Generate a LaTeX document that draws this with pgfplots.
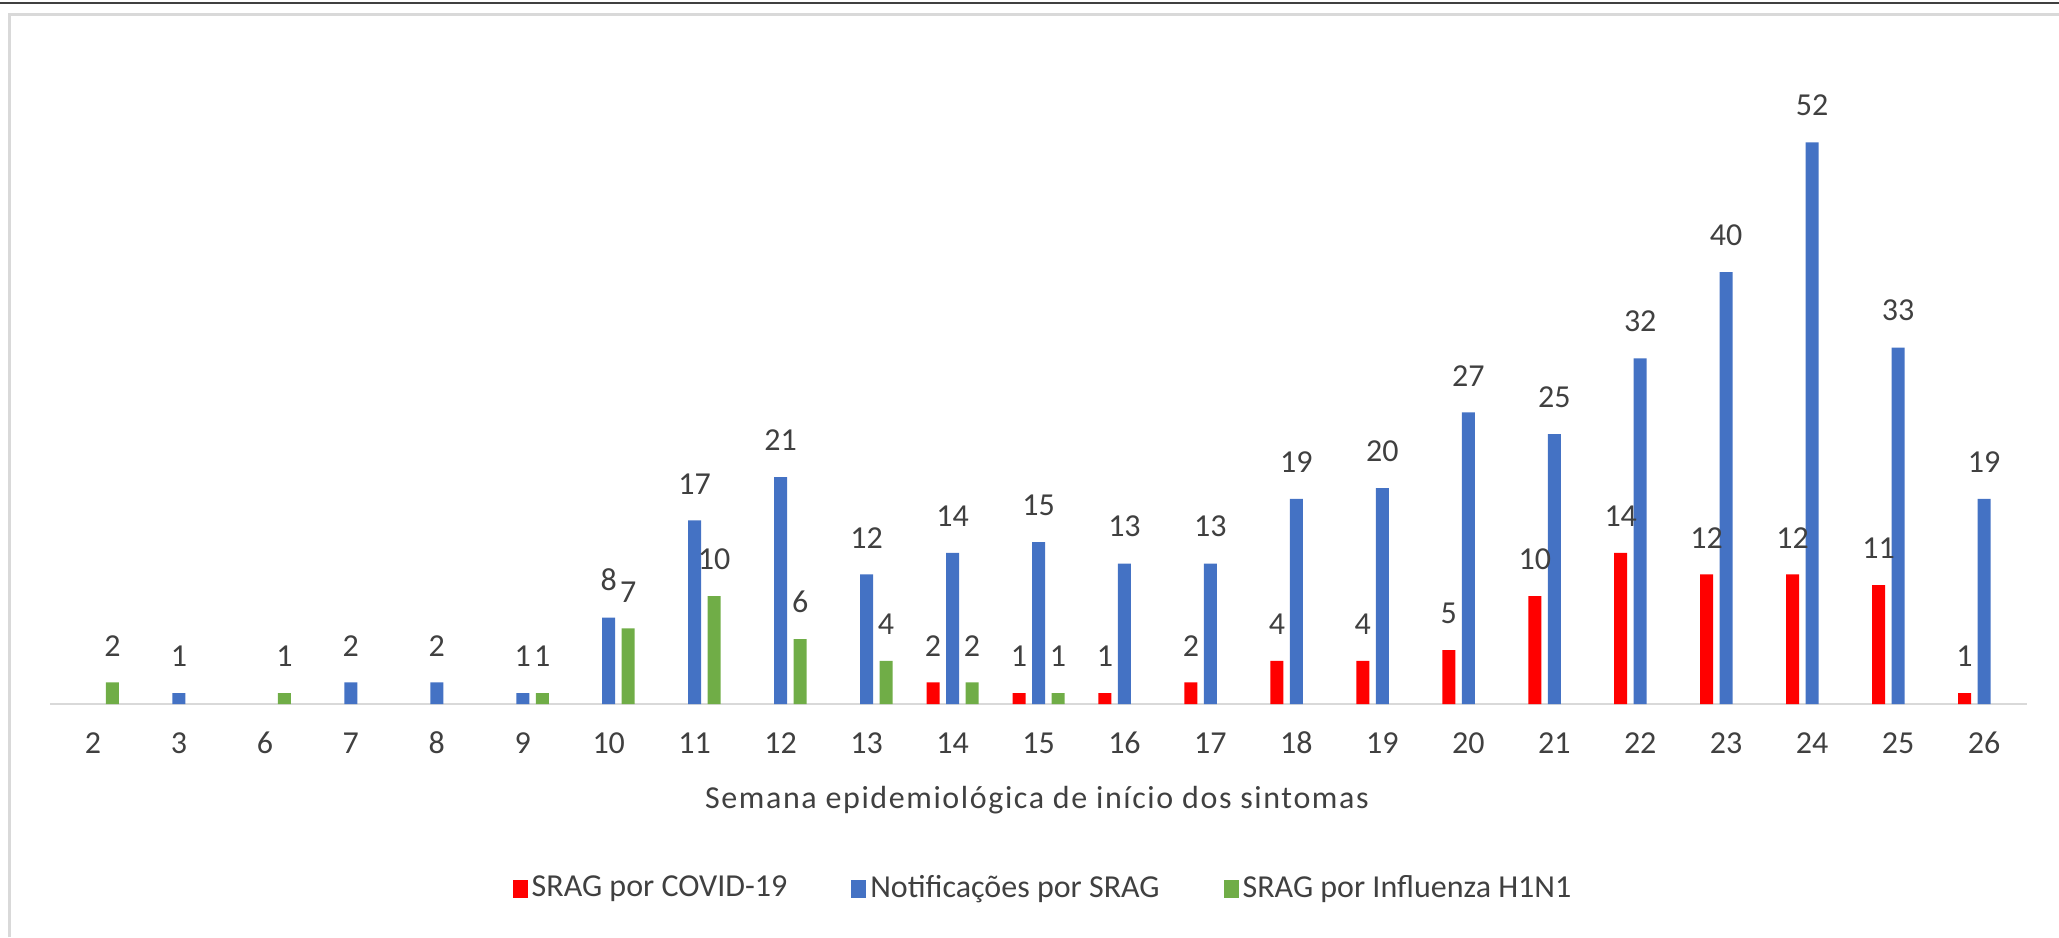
\documentclass[border=0pt]{standalone}
\usepackage{pgfplots}
\pgfplotsset{compat=1.18}
\usepackage{fontspec}
\setmainfont{Carlito}
\newfontfamily\spacedfont[LetterSpace=5]{Carlito}
\definecolor{txt}{HTML}{404040}
\definecolor{cred}{HTML}{FF0000}
\definecolor{cblue}{HTML}{4472C4}
\definecolor{cgreen}{HTML}{70AD47}
\definecolor{frame}{HTML}{D9D9D9}
\begin{document}
\begin{tikzpicture}
\fontsize{16}{19}\selectfont
\begin{axis}[
  at={(25pt,116.5pt)}, anchor=south west,
  scale only axis, width=988.5pt, height=324pt,
  xmin=-0.5, xmax=22.5, ymin=0, ymax=60,
  enlargelimits=false, clip=false,
  axis y line=none, axis x line*=bottom,
  x axis line style={draw=frame, line width=1pt},
  xtick={0,...,22},
  xticklabels={2,3,6,7,8,9,10,11,12,13,14,15,16,17,18,19,20,21,22,23,24,25,26},
  major tick length=0pt,
  xticklabel style={anchor=center, yshift=-19.5pt, text=txt, font=\fontsize{16}{19}\selectfont},
  xlabel={Semana epidemiológica de início dos sintomas},
  xlabel style={at={(axis description cs:0.4992,-0.148)}, anchor=center, text=txt, font=\spacedfont\fontsize{16}{19}\selectfont},
  /pgf/number format/assume math mode=true,
  nodes near coords,
  every node near coord/.append style={anchor=south, inner sep=0pt, yshift=13pt, text=txt, font=\fontsize{16}{19}\selectfont},
  legend columns=-1,
  legend style={at={(axis description cs:0.5028,-0.2855)}, anchor=center, draw=none, fill=none,
    font=\fontsize{16}{19}\selectfont, text=txt,
    /tikz/every even column/.append style={column sep=30pt},
    inner sep=0pt},
  legend image code/.code={\fill[#1] (-2.5pt,-4.5pt) rectangle (5pt,4.5pt);},
]
\addplot[ybar, bar width=6.5pt, bar shift=-9.75pt, fill=cred, draw=none,
  every node near coord/.append style={xshift=-9.75pt}] coordinates {
 (10,2) (11,1) (12,1) (13,2) (14,4) (15,4) (16,5) (17,10) (18,14) (19,12) (20,12) (21,11) (22,1)};
\addlegendentry{SRAG por COVID-19}
\addplot[ybar, bar width=6.5pt, bar shift=0pt, fill=cblue, draw=none] coordinates {
 (1,1) (3,2) (4,2) (5,1) (6,8) (7,17) (8,21) (9,12) (10,14) (11,15) (12,13) (13,13) (14,19) (15,20) (16,27) (17,25) (18,32) (19,40) (20,52) (21,33) (22,19)};
\addlegendentry{Notificações por SRAG}
\addplot[ybar, bar width=6.5pt, bar shift=9.75pt, fill=cgreen, draw=none,
  every node near coord/.append style={xshift=9.75pt}] coordinates {
 (0,2) (2,1) (5,1) (6,7) (7,10) (8,6) (9,4) (10,2) (11,1)};
\addlegendentry{SRAG por Influenza H1N1}
\end{axis}
\draw[frame, line width=1.5pt] (4.5pt,0pt) -- (4.5pt,461pt) -- (1029.5pt,461pt);
\draw[black!75, line width=1pt] (0pt,466.75pt) -- (1029.5pt,466.75pt);
\pgfresetboundingbox
\path[use as bounding box] (0pt,0pt) rectangle (1029.5pt,468.5pt);
\end{tikzpicture}
\end{document}
